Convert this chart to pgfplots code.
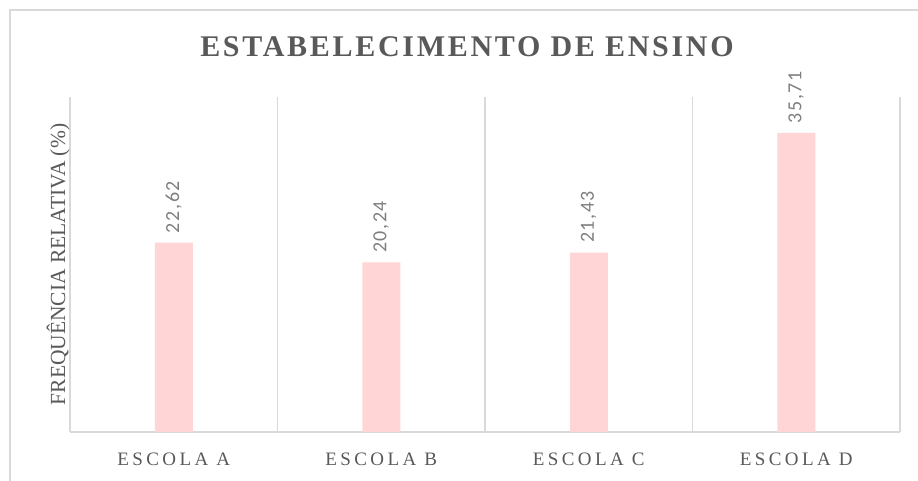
\documentclass[border=0pt]{standalone}
\usepackage{fontspec}
\setmainfont{Liberation Serif}
\newfontfamily\titlefont[LetterSpace=9]{Liberation Serif}
\newfontfamily\tickfont[LetterSpace=18]{Liberation Serif}
\newfontfamily\valfont[LetterSpace=8]{Carlito}
\usepackage{pgfplots}
\pgfplotsset{compat=1.18}
\definecolor{cBar}{HTML}{FFD5D5}
\definecolor{cGrid}{HTML}{D9D9D9}
\definecolor{cText}{HTML}{595959}
\definecolor{cVal}{HTML}{7F7F7F}

\begin{document}
\begin{tikzpicture}
\useasboundingbox (0,0) rectangle (918pt,481pt);
% chart frame (cut off at right and bottom)
\draw[cGrid, line width=1.2pt] (10pt,0pt) -- (10pt,471pt) -- (918pt,471pt);
\node[anchor=base, text=cText, font=\titlefont\bfseries\fontsize{30}{32}\selectfont]
  at (467pt,424pt) {ESTABELECIMENTO DE ENSINO};
\begin{axis}[
    at={(70pt,49pt)}, anchor=south west,
    scale only axis,
    width=830pt, height=335pt,
    ymin=0, ymax=40,
    xmin=-0.5, xmax=3.5,
    axis x line*=bottom,
    axis y line*=left,
    x axis line style={cGrid, line width=1.2pt, -},
    y axis line style={draw=none},
    xtick={0,1,2,3},
    xticklabels={ESCOLA A, ESCOLA B, ESCOLA C, ESCOLA D},
    xticklabel style={font=\tickfont\fontsize{19}{22}\selectfont, text=cText, yshift=-17pt},
    major tick length=0pt,
    minor xtick={-0.5,0.5,1.5,2.5,3.5},
    minor tick length=0pt,
    xminorgrids=true,
    minor grid style={cGrid, line width=1.2pt},
    ytick=\empty,
    ylabel={FREQUÊNCIA RELATIVA (\%)},
    ylabel style={at={(axis description cs:-0.006,0.5)}, anchor=base,
      font=\fontsize{21.5}{24}\selectfont, text=cText},
    ybar,
    bar width=38pt,
    point meta=explicit symbolic,
    nodes near coords,
    every node near coord/.append style={rotate=90, anchor=west, xshift=6pt,
      font=\valfont\fontsize{20}{22}\selectfont, text=cVal},
]
\addplot[fill=cBar, draw=none] coordinates {
  (0,22.62) [22,62]
  (1,20.24) [20,24]
  (2,21.43) [21,43]
  (3,35.71) [35,71]
};
\end{axis}
\end{tikzpicture}
\end{document}
